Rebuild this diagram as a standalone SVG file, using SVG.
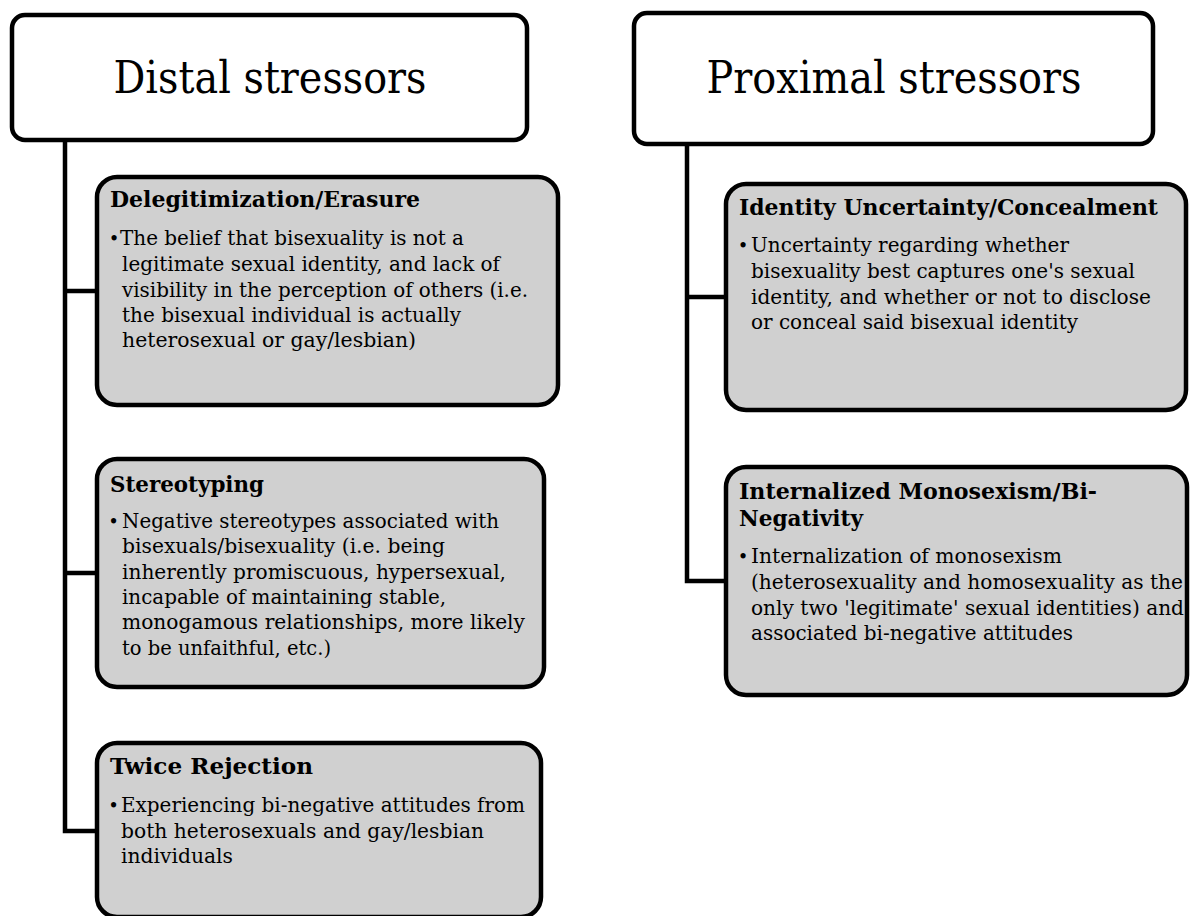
<svg xmlns="http://www.w3.org/2000/svg" width="1191" height="916" viewBox="0 0 1191 916">
<style>
.hdr{fill:#fff;stroke:#000;stroke-width:4.5}
.box{fill:#d0d0d0;stroke:#000;stroke-width:4.5}
.conn{fill:none;stroke:#000;stroke-width:4.5;stroke-linejoin:miter}
text{font-family:"DejaVu Serif","Liberation Serif",serif;fill:#000}
.h{font-size:45px;text-anchor:middle}
.t{font-size:22px;font-weight:bold}
.b{font-size:20.5px}
.d{font-size:18px;text-anchor:middle}
</style>
<rect width="1191" height="916" fill="#fff"/>
<g id="connectors">
<path class="conn" d="M65,140 V831 H97 M65,291 H97 M65,573 H97"/>
<path class="conn" d="M687,145 V581 H726 M687,297 H726"/>
</g>
<g id="distal">
<rect class="hdr" x="12" y="15" width="515" height="125" rx="13"/>
<text class="h" x="270" y="93" textLength="313" lengthAdjust="spacingAndGlyphs">Distal stressors</text>
</g>
<g id="proximal">
<rect class="hdr" x="634" y="13" width="519" height="131" rx="13"/>
<text class="h" x="894" y="93" textLength="375" lengthAdjust="spacingAndGlyphs">Proximal stressors</text>
</g>
<g id="delegitimization">
<rect class="box" x="97" y="177" width="461" height="228" rx="20"/>
<text class="t" x="110" y="207" textLength="310" lengthAdjust="spacingAndGlyphs">Delegitimization/Erasure</text>
<text class="d" x="114" y="244.5">•</text>
<text class="b" x="120" y="244.5" textLength="344" lengthAdjust="spacingAndGlyphs">The belief that bisexuality is not a</text>
<text class="b" x="122" y="270.5" textLength="378" lengthAdjust="spacingAndGlyphs">legitimate sexual identity, and lack of</text>
<text class="b" x="122" y="296.5" textLength="406" lengthAdjust="spacingAndGlyphs">visibility in the perception of others (i.e.</text>
<text class="b" x="122" y="322" textLength="339" lengthAdjust="spacingAndGlyphs">the bisexual individual is actually</text>
<text class="b" x="122" y="347" textLength="294" lengthAdjust="spacingAndGlyphs">heterosexual or gay/lesbian)</text>
</g>
<g id="stereotyping">
<rect class="box" x="97" y="459" width="447" height="228" rx="20"/>
<text class="t" x="110" y="492" textLength="154" lengthAdjust="spacingAndGlyphs">Stereotyping</text>
<text class="d" x="113.5" y="528">•</text>
<text class="b" x="122" y="528" textLength="377" lengthAdjust="spacingAndGlyphs">Negative stereotypes associated with</text>
<text class="b" x="122" y="553.3" textLength="323" lengthAdjust="spacingAndGlyphs">bisexuals/bisexuality (i.e. being</text>
<text class="b" x="122" y="578.6" textLength="384" lengthAdjust="spacingAndGlyphs">inherently promiscuous, hypersexual,</text>
<text class="b" x="122" y="603.9" textLength="324" lengthAdjust="spacingAndGlyphs">incapable of maintaining stable,</text>
<text class="b" x="122" y="629.2" textLength="403" lengthAdjust="spacingAndGlyphs">monogamous relationships, more likely</text>
<text class="b" x="122" y="654.5" textLength="209" lengthAdjust="spacingAndGlyphs">to be unfaithful, etc.)</text>
</g>
<g id="twice-rejection">
<rect class="box" x="97" y="743" width="444" height="174" rx="20"/>
<text class="t" x="110" y="774" textLength="203" lengthAdjust="spacingAndGlyphs">Twice Rejection</text>
<text class="d" x="113.5" y="812">•</text>
<text class="b" x="121" y="812" textLength="404" lengthAdjust="spacingAndGlyphs">Experiencing bi-negative attitudes from</text>
<text class="b" x="121" y="837.5" textLength="363" lengthAdjust="spacingAndGlyphs">both heterosexuals and gay/lesbian</text>
<text class="b" x="121" y="863" textLength="112" lengthAdjust="spacingAndGlyphs">individuals</text>
</g>
<g id="identity">
<rect class="box" x="726" y="184" width="460" height="226" rx="20"/>
<text class="t" x="739" y="215" textLength="419" lengthAdjust="spacingAndGlyphs">Identity Uncertainty/Concealment</text>
<text class="d" x="743" y="252">•</text>
<text class="b" x="751" y="252" textLength="318" lengthAdjust="spacingAndGlyphs">Uncertainty regarding whether</text>
<text class="b" x="751" y="277.8" textLength="384" lengthAdjust="spacingAndGlyphs">bisexuality best captures one's sexual</text>
<text class="b" x="751" y="303.6" textLength="400" lengthAdjust="spacingAndGlyphs">identity, and whether or not to disclose</text>
<text class="b" x="751" y="329.4" textLength="327" lengthAdjust="spacingAndGlyphs">or conceal said bisexual identity</text>
</g>
<g id="internalized">
<rect class="box" x="726" y="467" width="461" height="228" rx="20"/>
<text class="t" x="739" y="499" textLength="358" lengthAdjust="spacingAndGlyphs">Internalized Monosexism/Bi-</text>
<text class="t" x="739" y="526" textLength="124" lengthAdjust="spacingAndGlyphs">Negativity</text>
<text class="d" x="743" y="563">•</text>
<text class="b" x="751" y="563" textLength="311" lengthAdjust="spacingAndGlyphs">Internalization of monosexism</text>
<text class="b" x="751" y="589" textLength="432" lengthAdjust="spacingAndGlyphs">(heterosexuality and homosexuality as the</text>
<text class="b" x="751" y="614.5" textLength="433" lengthAdjust="spacingAndGlyphs">only two 'legitimate' sexual identities) and</text>
<text class="b" x="751" y="640" textLength="322" lengthAdjust="spacingAndGlyphs">associated bi-negative attitudes</text>
</g>
</svg>
